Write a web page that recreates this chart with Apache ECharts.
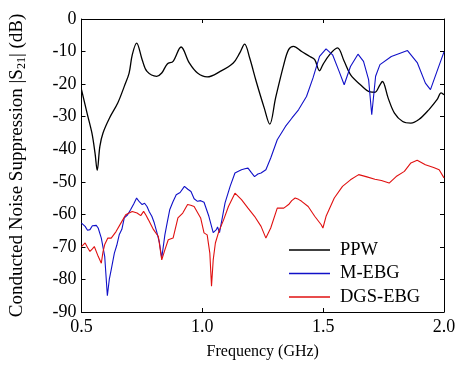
<!DOCTYPE html>
<html>
<head>
<meta charset="utf-8">
<script src="https://cdn.jsdelivr.net/npm/echarts@6/dist/echarts.min.js"></script>
<style>html,body{margin:0;padding:0;background:#fff}#c{width:463px;height:372px}</style>
</head>
<body>
<div id="c"></div>
<script>
const seriesNames = ['PPW', 'M-EBG', 'DGS-EBG'];
const xTicks = [0.5, 1.0, 1.5, 2.0];
const yTicks = [0, -10, -20, -30, -40, -50, -60, -70, -80, -90];

const freqPPW = [0.5,0.523,0.543,0.556,0.565,0.576,0.589,0.616,0.650,0.677,0.697,0.710,0.728,0.751,0.771,0.811,0.832,0.855,0.879,0.912,0.946,0.980,1.020,1.074,1.128,1.155,1.175,1.196,1.223,1.256,1.279,1.303,1.337,1.357,1.377,1.411,1.445,1.465,1.485,1.499,1.526,1.559,1.587,1.613,1.654,1.694,1.714,1.735,1.745,1.769,1.795,1.829,1.863,1.896,1.937,1.971,1.988,2.0];
const dbPPW = [-21.7,-28.9,-35,-41.2,-46.5,-39.1,-35,-30.4,-25.8,-20.7,-16.6,-11,-7.4,-12.5,-16.1,-17.6,-16.6,-13.8,-13,-8.6,-13.5,-16.6,-17.8,-16.1,-13.5,-10.4,-7.7,-12,-19.2,-27.3,-32.3,-24.3,-14,-9.4,-8.4,-10,-11.5,-12.5,-15.9,-14,-11,-8.9,-13,-17.1,-20.2,-22.4,-22.5,-20.2,-19.2,-24.3,-28.9,-31.5,-32,-30.9,-27.9,-24.8,-22.7,-23.3];

const freqMEBG = [0.5,0.508,0.515,0.525,0.535,0.545,0.553,0.561,0.569,0.582,0.596,0.607,0.615,0.623,0.636,0.646,0.656,0.667,0.677,0.690,0.703,0.716,0.728,0.740,0.751,0.761,0.771,0.781,0.791,0.801,0.811,0.822,0.832,0.845,0.855,0.865,0.878,0.892,0.908,0.926,0.940,0.953,0.966,0.980,0.993,1.007,1.027,1.045,1.058,1.063,1.071,1.081,1.094,1.115,1.135,1.149,1.162,1.176,1.189,1.203,1.216,1.230,1.243,1.263,1.283,1.310,1.344,1.371,1.398,1.431,1.458,1.485,1.512,1.539,1.566,1.587,1.613,1.644,1.667,1.688,1.701,1.717,1.735,1.782,1.849,1.890,1.923,1.944,1.971,2.0];
const dbMEBG = [-62.7,-62.2,-63.7,-64.9,-64.7,-63.5,-62.9,-63.4,-64.2,-67.3,-72.9,-85,-80,-77,-71.9,-69.5,-66.3,-64.6,-61.1,-60.2,-58.6,-56.8,-55,-56.2,-57,-56.6,-57.6,-59.3,-60.6,-62.6,-65.3,-68.5,-73.4,-66.3,-62.4,-58.6,-56.2,-54,-53.3,-51.4,-52.3,-53,-55.2,-56,-55.8,-56.3,-60.6,-65.6,-64.7,-63.9,-65.6,-61.7,-56.5,-51.4,-47.3,-46.8,-46.3,-46.0,-45.8,-47.2,-48.4,-47.6,-47.3,-46.3,-42.7,-37.1,-33,-30.4,-27.9,-23.8,-18.1,-11.5,-9.2,-11,-16.1,-20.2,-14.6,-10.8,-13,-18.6,-29.4,-17.6,-14,-11.5,-9.7,-13.5,-19.7,-21.7,-16.1,-10.1];

const freqDGS = [0.5,0.515,0.525,0.535,0.545,0.553,0.569,0.582,0.589,0.596,0.609,0.623,0.643,0.663,0.683,0.697,0.710,0.730,0.745,0.757,0.767,0.777,0.798,0.818,0.832,0.845,0.859,0.879,0.899,0.919,0.939,0.952,0.966,0.993,1.007,1.020,1.031,1.038,1.045,1.054,1.068,1.088,1.108,1.135,1.162,1.189,1.216,1.243,1.263,1.283,1.310,1.337,1.357,1.370,1.384,1.398,1.411,1.438,1.465,1.492,1.499,1.512,1.546,1.580,1.613,1.647,1.681,1.714,1.741,1.773,1.802,1.836,1.863,1.889,1.923,1.957,1.980,2.0];
const dbDGS = [-69.9,-68.8,-70.2,-71.4,-70.6,-69.9,-72.9,-75,-71.5,-69.3,-67.3,-67.3,-65.3,-62.7,-60.1,-59.6,-59.1,-59.6,-60.4,-59.1,-60.3,-61.7,-64.7,-66.8,-74,-70.9,-67.8,-67.3,-61.1,-59.6,-57,-57.2,-57.6,-61.1,-65.7,-66.3,-71.9,-82.1,-74,-68.8,-65.3,-61.7,-57.6,-53.5,-55.5,-58.1,-60.6,-63.7,-67.3,-64.2,-58.1,-58.1,-57,-55.8,-55,-55.4,-56,-57.6,-60.6,-63.2,-64.2,-60.6,-55,-51.4,-49.4,-47.8,-48.5,-49.2,-49.6,-50.4,-48.4,-46.8,-44.2,-43.4,-44.8,-45.6,-46.3,-48.8];

const colors = ['#000000', '#1010c8', '#e01010'];
const FONT = '"Liberation Serif", "DejaVu Serif", serif';

function zip(xs, ys) { return xs.map((x, i) => [x, ys[i]]); }

const chart = echarts.init(document.getElementById('c'), null, {renderer: 'canvas'});

const axisCommon = {
  axisLine: {show: true, onZero: false, lineStyle: {color: '#000', width: 1}},
  axisTick: {show: true, inside: true, length: 4, lineStyle: {color: '#000'}},
  splitLine: {show: false}
};

chart.setOption({
  animation: false,
  backgroundColor: '#fff',
  color: colors,
  grid: {left: 73, right: 19, top: 19, bottom: 60, containLabel: false},
  legend: {
    orient: 'vertical',
    left: 289, top: 240, padding: 0,
    icon: 'rect',
    itemWidth: 41, itemHeight: 1.3, itemGap: 3.5,
    textStyle: {fontFamily: FONT, fontSize: 18.5, color: '#000', lineHeight: 20, padding: [0,0,0,5]},
    data: seriesNames
  },
  xAxis: [
    Object.assign({
      type: 'value', min: 0.5, max: 2.0, interval: 0.5, position: 'bottom',
      axisLabel: {color: '#000', fontFamily: FONT, fontSize: 18, margin: 6,
        formatter: v => xTicks.includes(+v.toFixed(1)) ? v.toFixed(1) : ''},
      name: 'Frequency (GHz)', nameLocation: 'middle', nameGap: 32,
      nameTextStyle: {color: '#000', fontFamily: FONT, fontSize: 16}
    }, axisCommon),
    Object.assign({
      type: 'value', min: 0.5, max: 2.0, interval: 0.5, position: 'top',
      axisLabel: {show: false}
    }, axisCommon)
  ],
  yAxis: [
    Object.assign({
      type: 'value', min: -90, max: 0, interval: 10, position: 'left',
      axisLabel: {color: '#000', fontFamily: FONT, fontSize: 18, margin: 5,
        formatter: v => yTicks.includes(v) ? String(v) : ''},
      name: '{a|Conducted Noise Suppression |S}{s|21}{a|| (dB)}',
      nameLocation: 'middle', nameGap: 54, nameRotate: 90,
      nameTextStyle: {
        color: '#000', fontFamily: FONT, fontSize: 19,
        rich: {
          a: {fontFamily: FONT, fontSize: 19, color: '#000', lineHeight: 20, verticalAlign: 'middle'},
          s: {fontFamily: FONT, fontSize: 12, color: '#000', lineHeight: 12, verticalAlign: 'bottom'}
        }
      }
    }, axisCommon),
    Object.assign({
      type: 'value', min: -90, max: 0, interval: 10, position: 'right',
      axisLabel: {show: false}
    }, axisCommon)
  ],
  series: [
    {name: seriesNames[0], type: 'line', data: zip(freqPPW, dbPPW), symbol: 'none', smooth: 0.35,
     lineStyle: {width: 1.3, color: colors[0]}, itemStyle: {color: colors[0]}},
    {name: seriesNames[1], type: 'line', data: zip(freqMEBG, dbMEBG), symbol: 'none',
     lineStyle: {width: 1.1, color: colors[1]}, itemStyle: {color: colors[1]}},
    {name: seriesNames[2], type: 'line', data: zip(freqDGS, dbDGS), symbol: 'none',
     lineStyle: {width: 1.1, color: colors[2]}, itemStyle: {color: colors[2]}}
  ]
});
</script>
</body>
</html>
